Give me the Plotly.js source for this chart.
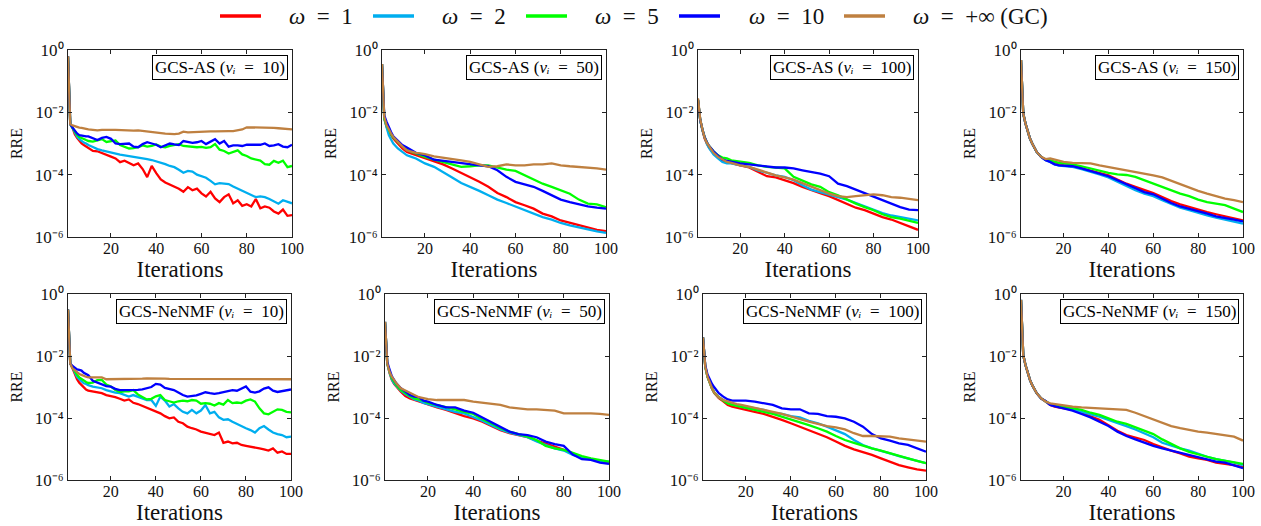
<!DOCTYPE html>
<html>
<head>
<meta charset="utf-8">
<script src="https://cdn.plot.ly/plotly-3.0.1.min.js"></script>
<style>html,body{margin:0;padding:0;background:#fff;}</style>
</head>
<body>
<div id="chart" style="width:1261px;height:526px;"></div>
<script>
// ---------- DATA (log10 of RRE) ----------
const legendLabels = ['<i>ω</i>\u2002=\u20021', '<i>ω</i>\u2002=\u20022', '<i>ω</i>\u2002=\u20025', '<i>ω</i>\u2002=\u200210', '<i>ω</i>\u2002=\u2002+∞ (GC)'];
const panelTitles = [
  'GCS-AS (<i>νᵢ</i>\u2002=\u200210)', 'GCS-AS (<i>νᵢ</i>\u2002=\u200250)',
  'GCS-AS (<i>νᵢ</i>\u2002=\u2002100)', 'GCS-AS (<i>νᵢ</i>\u2002=\u2002150)',
  'GCS-NeNMF (<i>νᵢ</i>\u2002=\u200210)', 'GCS-NeNMF (<i>νᵢ</i>\u2002=\u200250)',
  'GCS-NeNMF (<i>νᵢ</i>\u2002=\u2002100)', 'GCS-NeNMF (<i>νᵢ</i>\u2002=\u2002150)'
];
const xTickVals = [20, 40, 60, 80, 100];
const yTickVals = [1e-6, 1e-4, 1e-2, 1];
const yTickText = ['10⁻⁶', '10⁻⁴', '10⁻²', '10⁰'];

const itersNoisy = [1,2,3,4,5,6,7,8,9,10,12,14,16,18,20,22,24,26,28,30,32,34,36,38,40,42,44,46,48,50,52,54,56,58,60,62,64,66,68,70,72,74,76,78,80,82,84,86,88,90,92,94,96,98,100];
const itersSmooth = [1,2,3,4,5,6,8,10,12,14,16,18,20,24,28,32,36,40,44,48,52,56,60,64,68,72,76,80,84,88,92,96,100];

// GCS-AS, nu_i = 10 (itersNoisy)
const as10_w1 = [-0.2,-2.38,-2.5,-2.7,-2.82,-2.92,-3.0,-3.05,-3.1,-3.15, -3.24,-3.25,-3.3,-3.36,-3.42,-3.48,-3.6,-3.55,-3.62,-3.7, -3.64,-3.82,-4.08,-3.72,-3.95,-4.15,-4.25,-4.32,-4.4,-4.45, -4.55,-4.4,-4.5,-4.45,-4.6,-4.7,-4.55,-4.76,-4.88,-4.72, -4.63,-4.92,-4.82,-5.0,-4.95,-5.02,-4.78,-5.08,-5.02,-5.06, -5.18,-5.25,-5.12,-5.32,-5.3];
const as10_w2 = [-0.2,-2.38,-2.5,-2.66,-2.78,-2.86,-2.92,-2.97,-3.0,-3.05, -3.11,-3.18,-3.22,-3.26,-3.3,-3.34,-3.36,-3.38,-3.4,-3.43, -3.44,-3.48,-3.5,-3.53,-3.57,-3.6,-3.66,-3.72,-3.76,-3.84, -3.94,-3.88,-3.9,-4.0,-4.06,-4.1,-4.2,-4.31,-4.27,-4.28, -4.3,-4.38,-4.45,-4.52,-4.6,-4.66,-4.72,-4.7,-4.72,-4.78, -4.85,-4.93,-4.82,-4.88,-4.92];
const as10_w5 = [-0.2,-2.38,-2.5,-2.62,-2.72,-2.79,-2.83,-2.86,-2.89,-2.92, -2.94,-2.9,-2.86,-2.95,-2.92,-2.9,-3.05,-3.1,-3.16,-3.15, -3.12,-3.06,-3.1,-3.08,-3.03,-3.1,-3.12,-3.08,-3.05,-3.02, -3.08,-3.1,-3.1,-3.12,-3.11,-3.14,-3.12,-3.02,-3.2,-3.24, -3.32,-3.27,-3.22,-3.35,-3.4,-3.48,-3.52,-3.55,-3.66,-3.68, -3.56,-3.62,-3.55,-3.76,-3.72];
const as10_w10 = [-0.2,-2.38,-2.49,-2.6,-2.68,-2.73,-2.75,-2.76,-2.77,-2.77, -2.84,-2.89,-2.82,-2.79,-2.85,-3.0,-3.02,-3.0,-3.0,-3.1, -3.12,-3.02,-2.96,-3.0,-3.04,-3.12,-3.06,-3.0,-3.03,-3.05, -2.92,-2.95,-2.98,-2.96,-2.92,-3.02,-2.95,-2.86,-3.0,-2.92, -3.1,-3.06,-3.06,-3.08,-3.04,-3.04,-3.02,-3.04,-3.0,-3.08, -3.06,-3.02,-3.1,-3.12,-3.04];
const as10_wInf = [-0.2,-2.38,-2.42,-2.45,-2.48,-2.49,-2.5,-2.52,-2.53,-2.55, -2.56,-2.58,-2.56,-2.55,-2.56,-2.56,-2.57,-2.57,-2.58,-2.59, -2.58,-2.6,-2.62,-2.63,-2.64,-2.66,-2.68,-2.69,-2.7,-2.68, -2.62,-2.64,-2.63,-2.62,-2.62,-2.62,-2.61,-2.61,-2.6,-2.59, -2.6,-2.6,-2.58,-2.55,-2.48,-2.48,-2.49,-2.48,-2.49,-2.49, -2.5,-2.51,-2.52,-2.55,-2.55];

// GCS-AS, nu_i = 50 (itersSmooth)
const as50_w1 = [-0.45,-2.2,-2.46,-2.63,-2.73,-2.84,-3.0,-3.16,-3.27,-3.32,-3.38,-3.43,-3.48, -3.56,-3.67,-3.8,-3.94,-4.07,-4.23,-4.39,-4.59,-4.72,-4.88,-4.98,-5.09,-5.25,-5.34,-5.47,-5.55,-5.63,-5.7,-5.77,-5.81];
const as50_w2 = [-0.45,-2.2,-2.48,-2.73,-2.87,-3.0,-3.16,-3.27,-3.38,-3.43,-3.48,-3.56,-3.64, -3.75,-3.91,-4.09,-4.27,-4.39,-4.52,-4.66,-4.8,-4.91,-5.02,-5.12,-5.23,-5.36,-5.44,-5.55,-5.63,-5.7,-5.77,-5.82,-5.87];
const as50_w5 = [-0.45,-2.2,-2.42,-2.57,-2.7,-2.81,-2.95,-3.09,-3.19,-3.27,-3.32,-3.38,-3.43, -3.52,-3.59,-3.67,-3.75,-3.73,-3.7,-3.7,-3.77,-3.84,-3.88,-4.02,-4.16,-4.29,-4.39,-4.5,-4.61,-4.8,-4.93,-4.95,-5.04];
const as50_w10 = [-0.45,-2.1,-2.3,-2.49,-2.63,-2.77,-2.92,-3.05,-3.13,-3.22,-3.3,-3.34,-3.38, -3.52,-3.56,-3.58,-3.62,-3.67,-3.7,-3.73,-3.86,-4.07,-4.23,-4.31,-4.39,-4.52,-4.66,-4.8,-4.88,-4.95,-5.02,-5.06,-5.09];
const as50_wInf = [-0.45,-2.15,-2.41,-2.57,-2.68,-2.79,-2.95,-3.09,-3.22,-3.27,-3.3,-3.32,-3.34, -3.41,-3.45,-3.48,-3.54,-3.59,-3.67,-3.75,-3.73,-3.67,-3.7,-3.7,-3.67,-3.67,-3.64,-3.7,-3.73,-3.75,-3.77,-3.8,-3.84];

// GCS-AS, nu_i = 100 (itersSmooth)
const as100_w1 = [-1.6,-2.25,-2.57,-2.84,-3.0,-3.13,-3.32,-3.45,-3.56,-3.59,-3.62,-3.67,-3.7, -3.77,-3.91,-4.05,-4.09,-4.18,-4.27,-4.39,-4.5,-4.59,-4.69,-4.82,-4.95,-5.06,-5.14,-5.25,-5.36,-5.44,-5.55,-5.66,-5.77];
const as100_w2 = [-1.6,-2.25,-2.57,-2.84,-3.02,-3.15,-3.35,-3.48,-3.59,-3.64,-3.64,-3.67,-3.7, -3.75,-3.86,-3.94,-4.02,-4.07,-4.18,-4.34,-4.48,-4.56,-4.63,-4.72,-4.8,-4.91,-5.02,-5.12,-5.23,-5.31,-5.36,-5.41,-5.47];
const as100_w5 = [-1.6,-2.25,-2.55,-2.8,-2.96,-3.08,-3.25,-3.38,-3.45,-3.48,-3.54,-3.56,-3.59, -3.62,-3.7,-3.75,-3.77,-3.8,-4.07,-4.2,-4.31,-4.39,-4.56,-4.66,-4.8,-4.93,-5.04,-5.14,-5.27,-5.36,-5.41,-5.47,-5.55];
const as100_w10 = [-1.6,-2.25,-2.55,-2.8,-2.96,-3.08,-3.25,-3.38,-3.52,-3.56,-3.59,-3.62,-3.64, -3.67,-3.7,-3.73,-3.77,-3.77,-3.8,-3.86,-3.91,-3.97,-4.05,-4.29,-4.37,-4.48,-4.59,-4.69,-4.82,-4.93,-5.04,-5.12,-5.14];
const as100_wInf = [-1.55,-2.22,-2.55,-2.82,-2.98,-3.1,-3.3,-3.43,-3.52,-3.59,-3.62,-3.67,-3.7, -3.75,-3.84,-3.94,-4.02,-4.09,-4.16,-4.27,-4.39,-4.5,-4.61,-4.69,-4.72,-4.69,-4.66,-4.63,-4.66,-4.72,-4.74,-4.77,-4.82];

// GCS-AS, nu_i = 150 (itersSmooth)
const as150_w1 = [-0.32,-2.04,-2.36,-2.63,-2.84,-3.0,-3.27,-3.43,-3.52,-3.56,-3.62,-3.67,-3.7, -3.73,-3.8,-3.88,-3.94,-4.02,-4.16,-4.29,-4.39,-4.48,-4.59,-4.72,-4.85,-4.95,-5.04,-5.12,-5.2,-5.27,-5.34,-5.41,-5.47];
const as150_w2 = [-0.32,-2.04,-2.36,-2.63,-2.84,-3.0,-3.27,-3.43,-3.54,-3.59,-3.67,-3.71,-3.73, -3.75,-3.82,-3.9,-3.99,-4.09,-4.23,-4.37,-4.5,-4.61,-4.69,-4.82,-4.95,-5.06,-5.14,-5.23,-5.31,-5.38,-5.44,-5.52,-5.57];
const as150_w5 = [-0.32,-2.04,-2.36,-2.63,-2.84,-3.0,-3.27,-3.43,-3.52,-3.54,-3.59,-3.62,-3.64, -3.67,-3.73,-3.8,-3.88,-3.94,-3.99,-4.01,-4.07,-4.18,-4.29,-4.39,-4.5,-4.61,-4.69,-4.8,-4.88,-4.93,-4.98,-5.09,-5.2];
const as150_w10 = [-0.32,-2.04,-2.36,-2.63,-2.84,-3.0,-3.27,-3.43,-3.54,-3.59,-3.67,-3.7,-3.71, -3.73,-3.8,-3.88,-3.97,-4.05,-4.18,-4.31,-4.45,-4.56,-4.63,-4.77,-4.91,-5.02,-5.09,-5.17,-5.25,-5.34,-5.38,-5.44,-5.5];
const as150_wInf = [-0.32,-2.04,-2.36,-2.63,-2.84,-3.0,-3.27,-3.43,-3.5,-3.48,-3.52,-3.56,-3.59, -3.62,-3.62,-3.64,-3.7,-3.75,-3.8,-3.86,-3.91,-3.97,-4.02,-4.09,-4.2,-4.31,-4.42,-4.52,-4.61,-4.69,-4.77,-4.82,-4.88];

// GCS-NeNMF, nu_i = 10 (itersNoisy)
const ne10_w1 = [-0.5,-2.24,-2.4,-2.61,-2.75,-2.86,-2.94,-3.01,-3.08,-3.12, -3.15,-3.18,-3.2,-3.26,-3.29,-3.33,-3.38,-3.44,-3.4,-3.51, -3.55,-3.61,-3.69,-3.74,-3.8,-3.85,-3.94,-4.01,-3.98,-4.12, -4.17,-4.28,-4.33,-4.37,-4.44,-4.47,-4.52,-4.55,-4.47,-4.8, -4.76,-4.82,-4.8,-4.87,-4.9,-4.92,-4.95,-4.98,-5.01,-5.05, -4.98,-5.12,-5.08,-5.16,-5.16];
const ne10_w2 = [-0.5,-2.24,-2.37,-2.54,-2.67,-2.75,-2.83,-2.88,-2.9,-2.94, -2.99,-3.01,-3.04,-3.1,-3.15,-3.18,-3.2,-3.26,-3.31,-3.26, -3.31,-3.37,-3.42,-3.42,-3.61,-3.31,-3.44,-3.63,-3.55,-3.69, -3.8,-3.85,-3.74,-3.85,-3.76,-3.58,-3.85,-3.8,-3.98,-4.06, -4.04,-4.12,-4.19,-4.28,-4.33,-4.39,-4.47,-4.33,-4.26,-4.37, -4.47,-4.52,-4.55,-4.62,-4.6];
const ne10_w5 = [-0.5,-2.24,-2.37,-2.51,-2.61,-2.69,-2.75,-2.8,-2.84,-2.87, -2.86,-2.78,-2.77,-2.92,-2.98,-3.1,-3.16,-3.14,-3.14,-3.1, -3.24,-3.32,-3.4,-3.38,-3.3,-3.26,-3.42,-3.46,-3.5,-3.46, -3.44,-3.46,-3.42,-3.44,-3.54,-3.52,-3.54,-3.6,-3.52,-3.57, -3.42,-3.52,-3.5,-3.52,-3.44,-3.4,-3.47,-3.69,-3.85,-3.88, -3.8,-3.72,-3.74,-3.8,-3.82];
const ne10_w10 = [-0.5,-2.24,-2.32,-2.37,-2.43,-2.45,-2.47,-2.54,-2.58,-2.62, -2.8,-2.85,-2.9,-2.97,-2.99,-3.06,-3.1,-3.1,-3.11,-3.1, -3.09,-3.08,-3.04,-3.0,-2.9,-2.92,-3.03,-3.07,-3.1,-3.18, -3.26,-3.31,-3.3,-3.27,-3.22,-3.17,-3.2,-3.22,-3.2,-3.17, -3.14,-3.1,-3.12,-3.06,-2.98,-3.15,-3.18,-3.14,-3.05,-3.01, -3.12,-3.16,-3.14,-3.1,-3.08];
const ne10_wInf = [-0.5,-2.24,-2.4,-2.47,-2.54,-2.58,-2.61,-2.65,-2.67,-2.69, -2.69,-2.67,-2.69,-2.75,-2.75,-2.74,-2.74,-2.73,-2.74,-2.74, -2.73,-2.73,-2.72,-2.72,-2.71,-2.72,-2.73,-2.74,-2.74,-2.73, -2.73,-2.74,-2.74,-2.73,-2.73,-2.74,-2.74,-2.73,-2.73,-2.74, -2.74,-2.74,-2.75,-2.74,-2.74,-2.74,-2.73,-2.74,-2.74,-2.75, -2.75,-2.74,-2.75,-2.75,-2.75];

// GCS-NeNMF, nu_i = 50 (itersSmooth)
const ne50_w1 = [-0.9,-2.24,-2.55,-2.77,-2.9,-2.99,-3.15,-3.29,-3.37,-3.42,-3.47,-3.53,-3.58, -3.66,-3.74,-3.85,-3.94,-4.01,-4.12,-4.26,-4.39,-4.49,-4.55,-4.62,-4.73,-4.82,-4.92,-5.03,-5.16,-5.27,-5.33,-5.41,-5.44];
const ne50_w2 = [-0.9,-2.24,-2.53,-2.75,-2.88,-2.97,-3.12,-3.23,-3.31,-3.4,-3.44,-3.51,-3.55, -3.63,-3.72,-3.8,-3.85,-3.96,-4.09,-4.23,-4.37,-4.47,-4.55,-4.62,-4.76,-4.87,-4.98,-5.05,-5.19,-5.27,-5.33,-5.38,-5.41];
const ne50_w5 = [-0.9,-2.24,-2.5,-2.72,-2.83,-2.94,-3.1,-3.2,-3.29,-3.37,-3.4,-3.44,-3.51, -3.58,-3.63,-3.72,-3.8,-3.87,-4.04,-4.17,-4.33,-4.44,-4.52,-4.6,-4.71,-4.9,-4.98,-5.03,-5.12,-5.23,-5.3,-5.35,-5.41];
const ne50_w10 = [-0.9,-2.2,-2.43,-2.65,-2.77,-2.88,-3.04,-3.15,-3.26,-3.31,-3.33,-3.44,-3.47, -3.58,-3.66,-3.66,-3.76,-3.83,-3.98,-4.15,-4.28,-4.44,-4.52,-4.55,-4.62,-4.76,-4.84,-4.9,-5.18,-5.33,-5.35,-5.44,-5.48];
const ne50_wInf = [-0.9,-2.24,-2.51,-2.67,-2.77,-2.88,-3.04,-3.12,-3.18,-3.26,-3.33,-3.37,-3.39, -3.42,-3.42,-3.4,-3.42,-3.47,-3.51,-3.55,-3.58,-3.66,-3.69,-3.72,-3.72,-3.74,-3.76,-3.85,-3.85,-3.83,-3.85,-3.87,-3.9];

// GCS-NeNMF, nu_i = 100 (itersSmooth)
const ne100_w1 = [-1.4,-2.34,-2.67,-2.9,-3.06,-3.2,-3.36,-3.46,-3.58,-3.63,-3.66,-3.69,-3.72, -3.8,-3.87,-3.96,-4.06,-4.17,-4.28,-4.41,-4.52,-4.62,-4.76,-4.9,-5.01,-5.09,-5.19,-5.3,-5.41,-5.52,-5.59,-5.66,-5.7];
const ne100_w2 = [-1.4,-2.34,-2.67,-2.88,-3.04,-3.18,-3.33,-3.42,-3.51,-3.55,-3.58,-3.61,-3.63, -3.69,-3.74,-3.83,-3.87,-3.94,-3.98,-4.09,-4.17,-4.28,-4.39,-4.52,-4.71,-4.87,-4.98,-5.05,-5.14,-5.23,-5.3,-5.38,-5.46];
const ne100_w5 = [-1.4,-2.34,-2.67,-2.88,-3.04,-3.18,-3.33,-3.44,-3.53,-3.58,-3.61,-3.63,-3.66, -3.72,-3.8,-3.87,-3.96,-4.04,-4.12,-4.23,-4.33,-4.44,-4.58,-4.71,-4.8,-4.9,-4.98,-5.05,-5.14,-5.23,-5.3,-5.38,-5.46];
const ne100_w10 = [-1.4,-2.3,-2.6,-2.77,-2.9,-3.01,-3.2,-3.31,-3.4,-3.44,-3.44,-3.44,-3.44, -3.47,-3.53,-3.58,-3.69,-3.72,-3.72,-3.85,-3.87,-3.94,-3.96,-4.01,-4.12,-4.28,-4.52,-4.66,-4.73,-4.82,-4.87,-4.98,-5.09];
const ne100_wInf = [-1.4,-2.34,-2.67,-2.88,-3.04,-3.18,-3.33,-3.42,-3.47,-3.51,-3.55,-3.58,-3.61, -3.66,-3.72,-3.8,-3.87,-3.96,-4.04,-4.12,-4.19,-4.26,-4.3,-4.37,-4.49,-4.58,-4.58,-4.6,-4.6,-4.66,-4.69,-4.73,-4.76];

// GCS-NeNMF, nu_i = 150 (itersSmooth)
const ne150_w1 = [-0.19,-1.97,-2.29,-2.56,-2.77,-2.94,-3.2,-3.37,-3.47,-3.58,-3.63,-3.66,-3.69, -3.74,-3.83,-3.94,-4.06,-4.23,-4.41,-4.55,-4.62,-4.71,-4.84,-4.95,-5.05,-5.14,-5.25,-5.3,-5.35,-5.44,-5.48,-5.52,-5.59];
const ne150_w2 = [-0.19,-1.97,-2.29,-2.56,-2.77,-2.94,-3.2,-3.37,-3.47,-3.57,-3.61,-3.63,-3.66, -3.72,-3.8,-3.87,-3.96,-4.06,-4.15,-4.26,-4.37,-4.49,-4.62,-4.8,-4.9,-4.98,-5.05,-5.16,-5.25,-5.33,-5.38,-5.44,-5.52];
const ne150_w5 = [-0.19,-1.97,-2.29,-2.56,-2.77,-2.94,-3.2,-3.37,-3.47,-3.55,-3.58,-3.61,-3.63, -3.69,-3.74,-3.83,-3.9,-4.01,-4.12,-4.19,-4.3,-4.41,-4.52,-4.69,-4.84,-4.98,-5.09,-5.16,-5.25,-5.33,-5.38,-5.44,-5.48];
const ne150_w10 = [-0.19,-1.97,-2.29,-2.56,-2.77,-2.94,-3.2,-3.37,-3.45,-3.58,-3.63,-3.66,-3.69, -3.76,-3.87,-3.98,-4.12,-4.26,-4.44,-4.58,-4.69,-4.8,-4.9,-4.98,-5.05,-5.12,-5.19,-5.27,-5.33,-5.41,-5.44,-5.52,-5.62];
const ne150_wInf = [-0.19,-1.97,-2.29,-2.56,-2.77,-2.94,-3.2,-3.37,-3.47,-3.53,-3.55,-3.58,-3.61, -3.63,-3.66,-3.68,-3.69,-3.7,-3.72,-3.74,-3.83,-3.94,-4.04,-4.15,-4.26,-4.33,-4.39,-4.44,-4.47,-4.52,-4.55,-4.6,-4.73];

// ---------- STYLE / LAYOUT ----------
const colors = ['#ff0000', '#00aeef', '#00ff00', '#0000ff', '#bf8040'];
const FONT = 'Liberation Serif';
const W = 1261, H = 526;

const panels = [
  {it: itersNoisy,  s: [as10_w1, as10_w2, as10_w5, as10_w10, as10_wInf]},
  {it: itersSmooth, s: [as50_w1, as50_w2, as50_w5, as50_w10, as50_wInf]},
  {it: itersSmooth, s: [as100_w1, as100_w2, as100_w5, as100_w10, as100_wInf]},
  {it: itersSmooth, s: [as150_w1, as150_w2, as150_w5, as150_w10, as150_wInf]},
  {it: itersNoisy,  s: [ne10_w1, ne10_w2, ne10_w5, ne10_w10, ne10_wInf]},
  {it: itersSmooth, s: [ne50_w1, ne50_w2, ne50_w5, ne50_w10, ne50_wInf]},
  {it: itersSmooth, s: [ne100_w1, ne100_w2, ne100_w5, ne100_w10, ne100_wInf]},
  {it: itersSmooth, s: [ne150_w1, ne150_w2, ne150_w5, ne150_w10, ne150_wInf]}
];

// pixel boxes of the axes [left, right, top, bottom]
const boxes = [
  [68, 292, 50, 237], [382, 606, 50, 237], [698, 918, 50, 237], [1021, 1243, 50, 237],
  [68, 291, 294, 480], [385, 609, 294, 480], [703, 926, 294, 480], [1021, 1243, 294, 480]
];

const traces = [];
const layout = {
  width: W, height: H,
  margin: {l: 0, r: 0, t: 0, b: 0},
  paper_bgcolor: '#fff', plot_bgcolor: '#fff',
  showlegend: false,
  font: {family: FONT, size: 16, color: '#111'},
  annotations: [], shapes: []
};

panels.forEach((p, i) => {
  const n = i === 0 ? '' : String(i + 1);
  p.s.forEach((vals, k) => {
    const len = Math.min(vals.length, p.it.length);
    traces.push({
      type: 'scatter', mode: 'lines',
      x: p.it.slice(0, len),
      y: vals.slice(0, len).map(v => Math.pow(10, v)),
      name: legendLabels[k],
      line: {color: colors[k], width: 2.3},
      xaxis: 'x' + n, yaxis: 'y' + n,
      hoverinfo: 'skip'
    });
  });
  const b = boxes[i];
  layout['xaxis' + n] = {
    domain: [b[0] / W, b[1] / W], anchor: 'y' + n,
    range: [1, 100], tickmode: 'array', tickvals: xTickVals,
    ticks: 'inside', ticklen: 4, tickwidth: 1, tickcolor: '#222',
    ticklabelstandoff: -3,
    showline: true, linecolor: '#222', linewidth: 1, mirror: 'ticks',
    showgrid: false, zeroline: false,
    tickfont: {family: FONT, size: 16, color: '#111'},
    title: {text: 'Iterations', font: {family: FONT, size: 23, color: '#111'}, standoff: 0}
  };
  layout['yaxis' + n] = {
    domain: [1 - b[3] / H, 1 - b[2] / H], anchor: 'x' + n,
    type: 'log', range: [-6, 0], tickmode: 'array',
    tickvals: yTickVals, ticktext: yTickText,
    ticks: 'inside', ticklen: 4, tickwidth: 1, tickcolor: '#222',
    showline: true, linecolor: '#222', linewidth: 1, mirror: 'ticks',
    showgrid: false, zeroline: false,
    tickfont: {family: FONT, size: 17, color: '#111'},
    title: {text: 'RRE', font: {family: FONT, size: 16, color: '#111'}, standoff: 8}
  };
  layout.annotations.push({
    xref: 'paper', yref: 'paper',
    x: (b[1] - 4) / W, y: 1 - (b[2] + 5) / H,
    xanchor: 'right', yanchor: 'top',
    text: panelTitles[i], showarrow: false,
    bgcolor: '#fff', bordercolor: '#000', borderwidth: 1, borderpad: 2,
    font: {family: FONT, size: 17, color: '#000'}
  });
});

// legend drawn on top
const legendLineX = [220, 373, 526, 679, 844];
const legendTextX = [287, 440, 593, 747, 911];
const legendY = 16;
legendLabels.forEach((lab, k) => {
  layout.shapes.push({
    type: 'line', xref: 'paper', yref: 'paper',
    x0: legendLineX[k] / W, x1: (legendLineX[k] + 41) / W,
    y0: 1 - legendY / H, y1: 1 - legendY / H,
    line: {color: colors[k], width: 3.5}
  });
  layout.annotations.push({
    xref: 'paper', yref: 'paper',
    x: legendTextX[k] / W, y: 1 - legendY / H,
    xanchor: 'left', yanchor: 'middle',
    text: lab, showarrow: false,
    font: {family: FONT, size: 23, color: '#111'}
  });
});

Plotly.newPlot('chart', traces, layout, {displayModeBar: false});
</script>
</body>
</html>
